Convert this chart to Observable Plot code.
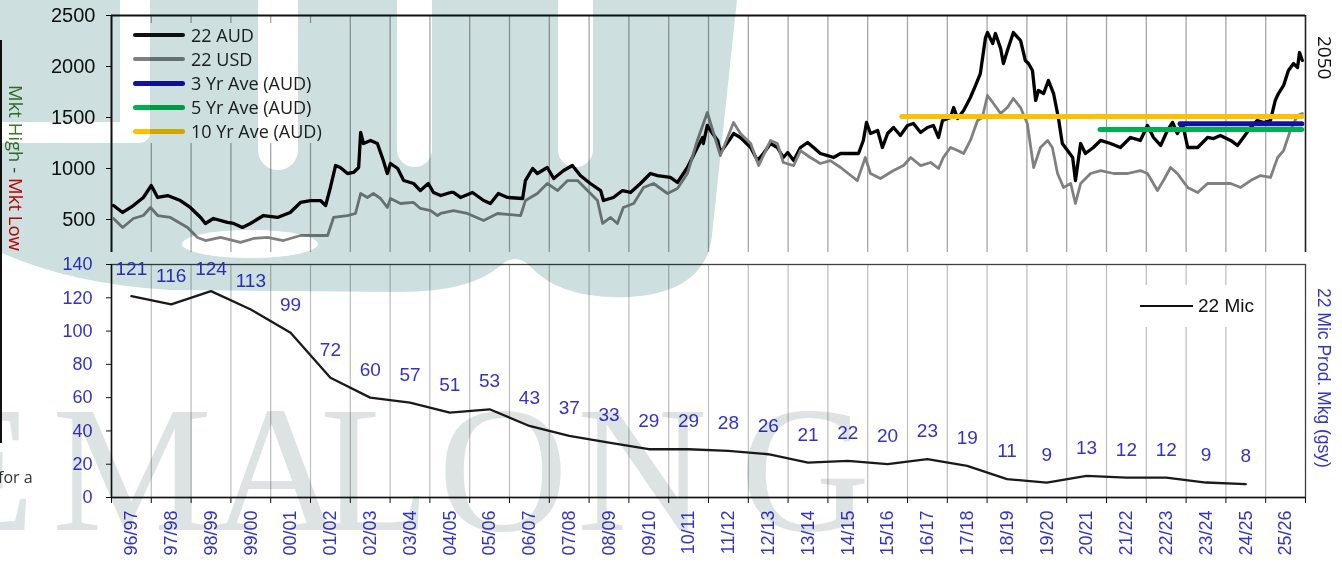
<!DOCTYPE html>
<html><head><meta charset="utf-8">
<script src="https://cdn.jsdelivr.net/npm/d3@7"></script>
<script src="https://cdn.jsdelivr.net/npm/@observablehq/plot@0.6"></script>
<style>
body{margin:0;background:#fff;}
#wrap{position:relative;width:1342px;height:562px;overflow:hidden;background:#fff;font-family:"Liberation Sans",Arial,sans-serif;}
.abs{position:absolute;}
.vert{writing-mode:vertical-rl;white-space:nowrap;}
#legTop{left:120px;top:23px;width:215px;height:120px;background:#fff;z-index:2;padding-left:13px;box-sizing:border-box;font-family:"Open Sans",sans-serif;font-size:18px;color:#222;}
#legTop .row{height:24px;display:flex;align-items:center;}
#legTop .sw{width:52px;border-radius:3px;margin-right:6px;}
#legBot{left:1135px;top:285px;width:130px;height:42px;background:#fff;z-index:2;display:flex;align-items:center;font-size:19px;color:#111;}
</style></head><body><div id="wrap">
<div id="top" class="abs" style="left:0;top:0;z-index:1"></div>
<div id="bot" class="abs" style="left:0;top:252px;z-index:1"></div>
<div id="legTop" class="abs"></div>
<div id="legBot" class="abs"><div style="width:53px;height:2.5px;background:#111;margin-left:5px;margin-right:5px"></div><span>22 Mic</span></div>
<div class="abs vert" style="left:6px;top:85px;font-family:'Open Sans',sans-serif;font-size:18.5px;line-height:20px"><span style="color:#3a7a2a">Mkt High</span><span style="color:#444"> - </span><span style="color:#e60000">Mkt Low</span></div>
<div class="abs" style="left:0;top:40px;width:2px;height:403px;background:#111"></div>
<div class="abs" style="left:-2px;top:466px;font-family:'Open Sans',sans-serif;font-size:16px;color:#333">for a</div>
<div class="abs vert" style="left:1315px;top:36px;font-family:'Open Sans',sans-serif;font-size:19px;line-height:20px;color:#111">2050</div>
<div class="abs vert" style="left:1314px;top:288px;font-size:17.5px;line-height:20px;color:#3333cc">22 Mic Prod. Mkg (gsy)</div>
<svg class="abs" style="left:0;top:0;mix-blend-mode:multiply;pointer-events:none;z-index:5" width="1342" height="562">
<path fill="#cddfdf" d="M-10,-10 L738,-10 L712,235 Q706,292 630,297 Q560,300 530,266 Q515,252 500,266 Q470,292 400,292 L170,290 Q70,284 0,252 L-10,250 Z"/>
<g fill="#fff">
<rect x="-20" y="122" width="170" height="21" rx="10"/>
<rect x="120" y="-20" width="30" height="163" rx="14"/>
<rect x="258" y="-20" width="40" height="190" rx="20"/>
<rect x="397" y="-20" width="35" height="187" rx="17"/>
<rect x="558" y="-20" width="35" height="187" rx="17"/>
<ellipse cx="250" cy="244" rx="68" ry="14"/>
</g>
<text x="-225 -75 52 212 320 438 577 740" y="530" font-family="Liberation Serif" font-size="180" fill="#dde3e3">WEMALONG</text>
</svg>
</div>
<script>
// ---- data ----
const seasons = ["96/97","97/98","98/99","99/00","00/01","01/02","02/03","03/04","04/05","05/06","06/07","07/08","08/09","09/10","10/11","11/12","12/13","13/14","14/15","15/16","16/17","17/18","18/19","19/20","20/21","21/22","22/23","23/24","24/25","25/26"];
const prod22Mic = [121,116,124,113,99,72,60,57,51,53,43,37,33,29,29,28,26,21,22,20,23,19,11,9,13,12,12,9,8];

const audYear = [1996.55,1996.78,1997.05,1997.30,1997.50,1997.66,1997.91,1998.23,1998.48,1998.74,
1998.86,1999.06,1999.41,1999.57,1999.79,1999.99,2000.32,2000.67,2000.99,2001.25,
2001.50,2001.75,2001.88,2002.00,2002.13,2002.25,2002.43,2002.58,2002.71,2002.76,
2002.83,2003.01,2003.18,2003.33,2003.43,2003.51,2003.69,2003.84,2004.09,2004.26,
2004.46,2004.59,2004.77,2005.02,2005.09,2005.27,2005.57,2005.85,2006.02,2006.22,
2006.45,2006.83,2006.90,2007.08,2007.20,2007.45,2007.61,2007.86,2008.08,2008.28,
2008.53,2008.79,2008.86,2009.11,2009.34,2009.54,2009.79,2010.04,2010.22,2010.54,
2010.72,2010.97,2011.22,2011.35,2011.37,2011.47,2011.60,2011.73,2011.80,2012.05,
2012.13,2012.30,2012.56,2012.73,2012.88,2013.06,2013.23,2013.38,2013.49,2013.64,
2013.81,2013.99,2014.14,2014.31,2014.49,2014.64,2014.82,2015.07,2015.27,2015.39,
2015.47,2015.57,2015.75,2015.87,2016.00,2016.15,2016.32,2016.50,2016.65,2016.83,
2017.00,2017.15,2017.28,2017.38,2017.58,2017.66,2017.76,2017.91,2018.08,2018.21,
2018.33,2018.46,2018.51,2018.64,2018.71,2018.84,2018.91,2019.01,2019.16,2019.34,
2019.46,2019.54,2019.64,2019.72,2019.79,2019.92,2020.04,2020.17,2020.29,2020.39,
2020.52,2020.65,2020.72,2020.85,2020.97,2021.17,2021.35,2021.60,2021.85,2022.10,
2022.35,2022.53,2022.68,2022.86,2023.03,2023.16,2023.28,2023.41,2023.54,2023.79,
2024.04,2024.19,2024.36,2024.62,2024.79,2024.94,2025.12,2025.29,2025.45,2025.62,
2025.74,2025.82,2025.95,2026.07,2026.20,2026.30,2026.35,2026.42];
const audPrice = [637,569,637,716,833,716,735,686,618,520,
461,510,471,461,422,461,539,520,569,667,
686,686,637,814,1029,1010,951,961,1010,1353,
1245,1275,1245,1078,951,1049,1000,882,853,784,
853,765,735,765,765,716,765,686,657,755,
716,706,882,1000,951,1010,902,980,1029,931,
853,784,686,716,784,765,853,951,931,912,
863,1010,1206,1304,1245,1422,1343,1275,1157,1294,
1343,1304,1206,1078,1147,1245,1206,1108,1157,1078,
1206,1255,1206,1147,1127,1108,1147,1147,1147,1275,
1451,1343,1373,1206,1343,1402,1324,1422,1441,1353,
1402,1422,1304,1471,1500,1598,1490,1569,1696,1814,
1931,2284,2333,2225,2323,2176,2029,2157,2333,2255,
2059,2029,1961,1667,1765,1735,1863,1735,1500,1245,
1176,1108,882,1245,1147,1206,1275,1245,1206,1304,
1275,1422,1304,1226,1373,1451,1343,1441,1206,1206,
1304,1294,1324,1275,1226,1304,1402,1471,1451,1471,
1667,1735,1814,1961,2029,1990,2137,2059];

const usdYear = [1996.55,1996.78,1997.05,1997.30,1997.48,1997.66,1997.98,1998.41,1998.66,1998.86,
1999.24,1999.74,2000.07,2000.42,2000.82,2001.25,2001.68,2001.93,2002.08,2002.43,
2002.63,2002.76,2002.93,2003.08,2003.26,2003.43,2003.51,2003.76,2004.09,2004.26,
2004.52,2004.69,2004.77,2005.09,2005.44,2005.85,2006.20,2006.78,2006.90,2007.20,
2007.45,2007.71,2007.96,2008.21,2008.46,2008.71,2008.84,2009.04,2009.21,2009.36,
2009.62,2009.87,2010.12,2010.47,2010.72,2010.97,2011.22,2011.47,2011.63,2011.80,
2011.98,2012.13,2012.30,2012.56,2012.76,2013.06,2013.23,2013.38,2013.64,2013.81,
2014.06,2014.31,2014.56,2014.82,2015.24,2015.44,2015.57,2015.82,2016.15,2016.40,
2016.58,2016.83,2017.08,2017.28,2017.40,2017.58,2017.76,2017.91,2018.08,2018.26,
2018.38,2018.51,2018.66,2018.84,2019.01,2019.16,2019.34,2019.51,2019.67,2019.84,
2020.02,2020.14,2020.27,2020.42,2020.60,2020.72,2020.85,2021.10,2021.35,2021.68,
2022.03,2022.35,2022.53,2022.78,2022.93,2023.11,2023.28,2023.54,2023.79,2024.04,
2024.29,2024.62,2024.87,2025.12,2025.37,2025.62,2025.80,2025.95,2026.12,2026.30,
2026.42];
const usdPrice = [510,422,510,539,618,539,520,422,324,294,
324,275,314,324,294,343,343,343,520,539,
559,755,716,755,706,618,706,657,667,608,
588,539,559,588,559,490,559,539,686,755,
853,784,882,882,784,686,461,520,461,618,
657,814,853,755,804,951,1275,1549,1343,1127,
1304,1451,1343,1245,1029,1275,1245,1059,1029,1176,
1108,1049,1078,1010,882,1108,951,902,980,1029,
1108,1029,1059,1000,1108,1206,1176,1147,1275,1471,
1500,1716,1637,1539,1598,1686,1598,1441,1010,1206,
1275,1206,951,814,853,657,853,951,980,951,
951,980,951,784,882,1010,951,814,765,853,
853,853,814,882,931,912,1108,1176,1373,1520,
1539];

const aveNames = ["3 Yr Ave (AUD)","5 Yr Ave (AUD)","10 Yr Ave (AUD)"];
const aveValues = [1438, 1382, 1510];
const aveStart = [2023.36, 2021.35, 2016.37];
const aveEnd = 2026.42;
const priceTicks = [500,1000,1500,2000,2500];
const prodTicks = [0,20,40,60,80,100,120,140];

// ---- styles ----
const BLUE = "#3333cc";
const aveColors = {"3 Yr Ave (AUD)":"#1212a6","5 Yr Ave (AUD)":"#00b050","10 Yr Ave (AUD)":"#ffc000"};
const legendItems = [
  {name:"22 AUD", color:"#111", h:4},
  {name:"22 USD", color:"#7f7f7f", h:3.5},
  {name:"3 Yr Ave (AUD)", color:aveColors["3 Yr Ave (AUD)"], h:5},
  {name:"5 Yr Ave (AUD)", color:aveColors["5 Yr Ave (AUD)"], h:5},
  {name:"10 Yr Ave (AUD)", color:aveColors["10 Yr Ave (AUD)"], h:5}
];

const aud = audYear.map((t,i)=>({t, v: audPrice[i]}));
const usd = usdYear.map((t,i)=>({t, v: usdPrice[i]}));
const aves = aveNames.map((n,i)=>({name:n, v:aveValues[i], start:aveStart[i], end:aveEnd}));
const prod = prod22Mic.map((v,i)=>({t: 1997 + i, v}));
const xDomain = [1996.5, 1996.5 + seasons.length];
const bounds = d3.range(seasons.length + 1).map(i => 1996.5 + i);
const centers = seasons.map((s,i) => 1997 + i);

const common = {width:1342, marginLeft:111, marginRight:37,
  style:{fontFamily:"'Liberation Sans', Arial, sans-serif", background:"transparent", overflow:"visible"}};

const topChart = Plot.plot({
  ...common, height:252, marginTop:15, marginBottom:0,
  x:{domain:xDomain, axis:null},
  y:{domain:[176.5, 2500], axis:null},
  marks:[
    Plot.ruleX(bounds.slice(1,-1), {stroke:"#a6a6a6", strokeWidth:1.3}),
    Plot.ruleY([2500], {stroke:"#111", strokeWidth:2}),
    Plot.ruleX([xDomain[0]], {stroke:"#111", strokeWidth:2}),
    Plot.ruleX([xDomain[1]], {stroke:"#222", strokeWidth:1.6}),
    Plot.axisY({ticks:priceTicks, label:null, tickSize:5, tickPadding:11, fontSize:20, color:"#111", tickFormat:d=>String(d)}),
    Plot.line(aud, {x:"t", y:"v", stroke:"#000", strokeWidth:3.3, strokeLinejoin:"round"}),
    Plot.line(usd, {x:"t", y:"v", stroke:"#808080", strokeWidth:2.8, strokeLinejoin:"round"}),
    ...[...aves].reverse().map(a => Plot.ruleY([a], {y:"v", x1:"start", x2:"end", stroke:aveColors[a.name], strokeWidth:5, strokeLinecap:"round"}))
  ]
});
document.getElementById("top").appendChild(topChart);

const botChart = Plot.plot({
  ...common, height:310, marginTop:12, marginBottom:65,
  x:{domain:xDomain, axis:null},
  y:{domain:[0,140], axis:null},
  marks:[
    Plot.ruleX(bounds.slice(1,-1), {stroke:"#bdbdbd", strokeWidth:1.2}),
    Plot.frame({stroke:"#404040", strokeWidth:1.3}),
    Plot.ruleX([xDomain[0]], {stroke:"#111", strokeWidth:1.5}),
    Plot.ruleY([0], {stroke:"#111", strokeWidth:1.5}),
    Plot.axisY({ticks:prodTicks, label:null, tickSize:5, tickPadding:14, fontSize:18, fill:BLUE, stroke:"#111", tickFormat:d=>String(d)}),
    Plot.axisX({ticks:bounds, label:null, tickSize:6, stroke:"#111", tickFormat:()=>""}),
    Plot.axisX({ticks:centers, label:null, tickSize:0, tickPadding:13, tickRotate:-90, fontSize:18, fill:BLUE, tickFormat:d=>seasons[Math.round(d-1997)]}),
    Plot.line(prod, {x:"t", y:"v", stroke:"#1a1a1a", strokeWidth:2.3}),
    Plot.text(prod, {x:"t", y:d=>Math.min(d.v, 120.5), text:d=>String(d.v), lineAnchor:"bottom", dy:-22, fontSize:19, fill:BLUE})
  ]
});
document.getElementById("bot").appendChild(botChart);

const leg = document.getElementById("legTop");
legendItems.forEach(it => {
  const row = document.createElement("div"); row.className = "row";
  const sw = document.createElement("div"); sw.className = "sw";
  sw.style.height = it.h + "px"; sw.style.background = it.color;
  const tx = document.createElement("span"); tx.textContent = it.name;
  row.appendChild(sw); row.appendChild(tx); leg.appendChild(row);
});
</script>
</body></html>
